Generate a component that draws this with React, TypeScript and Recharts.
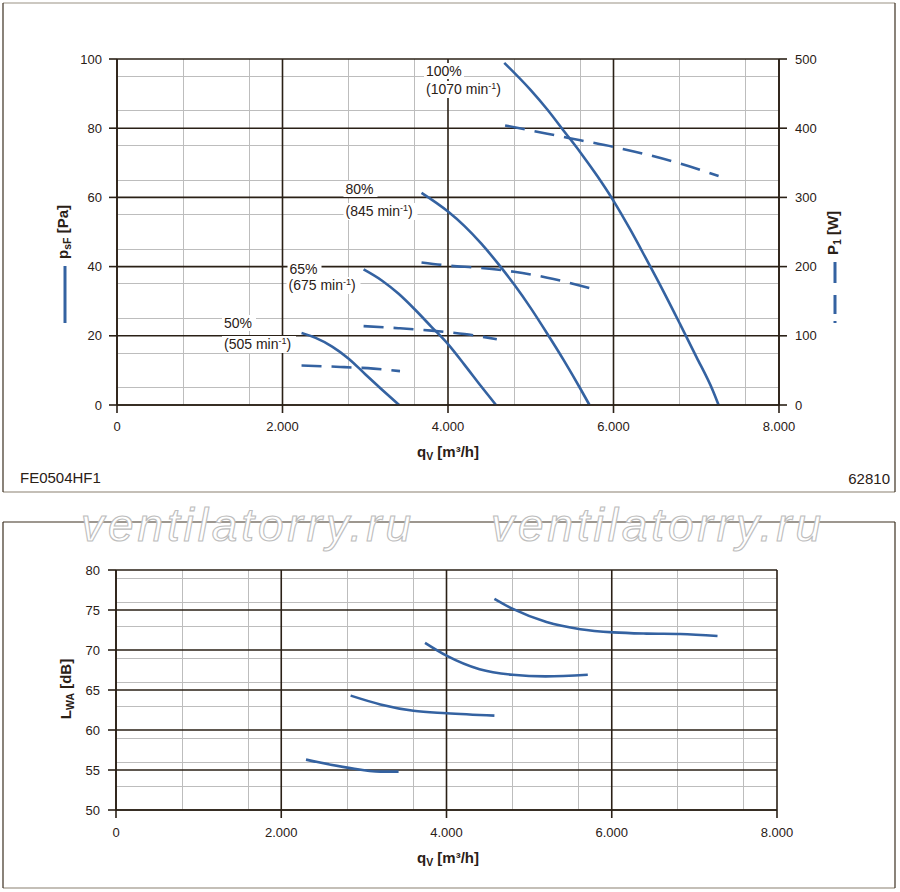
import React from 'react';
import { LineChart, Line, XAxis, YAxis, CartesianGrid } from 'recharts';

const BLUE = '#3462a1';
const INK = '#2a2016';
const MINOR = '#bdbdbd';
const FONT = '"Liberation Sans", Arial, Helvetica, sans-serif';

// q_V axis [m³/h]
const flowTicks = [0, 2000, 4000, 6000, 8000];
const flowMinor = [400, 800, 1200, 1600, 2400, 2800, 3200, 3600, 4400, 4800, 5200, 5600, 6400, 6800, 7200, 7600];

// top diagram: static pressure psF [Pa] on the left, power input P1 [W] on the right
const pressureTicks = [0, 20, 40, 60, 80, 100];
const pressureMinor = [5, 10, 15, 25, 30, 35, 45, 50, 55, 65, 70, 75, 85, 90, 95];
const powerTicks = [0, 100, 200, 300, 400, 500];

// bottom diagram: sound power LWA [dB]
const noiseTicks = [50, 55, 60, 65, 70, 75, 80];
const noiseMinor = [51, 52, 53, 54, 56, 57, 58, 59, 61, 62, 63, 64, 66, 67, 68, 69, 71, 72, 73, 74, 76, 77, 78, 79];

// speed steps
const speedPct = ['50%', '65%', '80%', '100%'];
const speedRpm = ['505', '675', '845', '1070'];

// [q, psF]
const pressure50 = [[2230, 20.8], [2400, 19.4], [2600, 16.9], [2800, 13.4], [3000, 8.9], [3200, 4.5], [3410, 0]];
const pressure65 = [[2980, 39.2], [3200, 36], [3400, 32.2], [3600, 27.6], [3800, 22.6], [4000, 17.6], [4200, 11.6], [4400, 5.4], [4580, 0]];
const pressure80 = [[3680, 61.3], [4000, 55.9], [4200, 51.7], [4400, 46.7], [4600, 41], [4800, 34.8], [5000, 28], [5200, 20.6], [5400, 12.9], [5600, 4.7], [5710, 0]];
const pressure100 = [[4680, 98.9], [5000, 91], [5200, 85.4], [5400, 79.2], [5600, 73], [5800, 66.3], [6000, 59], [6200, 50.8], [6400, 42], [6600, 33], [6800, 23.6], [7000, 14], [7200, 4.2], [7270, 0]];

// [q, P1]
const power50 = [[2230, 57], [2700, 55], [3100, 52.5], [3420, 49]];
const power65 = [[2980, 114], [3400, 111], [3800, 107.5], [4200, 102.5], [4590, 95]];
const power80 = [[3680, 206], [4000, 201.5], [4400, 198], [4800, 192.5], [5200, 184], [5710, 169]];
const power100 = [[4690, 404], [5200, 392], [5600, 382.5], [6000, 373], [6400, 362], [6800, 349], [7270, 331]];

// [q, LWA]
const noise50 = [[2300, 56.3], [2800, 55.3], [3200, 54.8], [3420, 54.8]];
const noise65 = [[2840, 64.3], [3200, 63.2], [3600, 62.4], [4000, 62.1], [4580, 61.8]];
const noise80 = [[3740, 70.9], [4000, 69.3], [4400, 67.6], [4800, 66.9], [5200, 66.7], [5710, 66.9]];
const noise100 = [[4580, 76.4], [4810, 75.1], [5210, 73.5], [5620, 72.6], [6020, 72.2], [6420, 72.05], [6830, 72.0], [7280, 71.75]];

const pts = (rows: number[][]) => rows.map(([q, v]) => ({ q, v }));

const pressureCurves = [pressure50, pressure65, pressure80, pressure100].map(pts);
const powerCurves = [power50, power65, power80, power100].map(pts);
const noiseCurves = [noise50, noise65, noise80, noise100].map(pts);

const fmtFlow = (v: number) => (v === 0 ? '0' : `${v / 1000}.000`);

const axisStyle = { stroke: INK, strokeWidth: 1.6 };
const tickStyle = { fill: INK, fontSize: 13, fontFamily: FONT };

// where the speed labels sit (px), [pct line x, baseline, rpm line x, baseline, pct width, rpm width]
const labelPos = [
  [224, 328, 224, 349, 30, 70],
  [289.5, 273.5, 288.5, 290, 30, 70],
  [345.5, 194, 345.5, 216, 30, 70],
  [426, 76, 426, 94, 36, 79],
];

const SpeedLabel = ({ i }: { i: number }) => {
  const [x1, y1, x2, y2, w1, w2] = labelPos[i];
  return (
    <g>
      <rect x={x1 - 2} y={y1 - 13} width={w1 + 4} height={16} fill="#fff" />
      <rect x={x2 - 2} y={y2 - 13} width={w2 + 4} height={17} fill="#fff" />
      <text x={x1} y={y1} fontSize={14} fill={INK}>{speedPct[i]}</text>
      <text x={x2} y={y2} fontSize={14} fill={INK}>
        ({speedRpm[i]} min<tspan fontSize={9} dy={-5}>-1</tspan><tspan dy={5}>)</tspan>
      </text>
    </g>
  );
};

const Watermark = ({ x }: { x: number }) => (
  <text x={x} y={541} fontSize={46} fontStyle="italic" fill="#fff" stroke="#bdbdbd" strokeWidth={1.1}
    textLength={330} lengthAdjust="spacing">ventilatorry.ru</text>
);

export default function App() {
  return (
    <div style={{ position: 'absolute', left: 0, top: 0, width: 900, height: 892, background: '#fff', fontFamily: FONT }}>
      <div style={{ position: 'absolute', left: 0, top: 0 }}>
        <LineChart width={900} height={500} margin={{ top: 59, right: 71, bottom: 55, left: 67 }}>
          <CartesianGrid horizontalValues={pressureMinor} verticalValues={flowMinor} stroke={MINOR} strokeWidth={1}
            shapeRendering="crispEdges" />
          <CartesianGrid horizontalValues={pressureTicks} verticalValues={flowTicks} stroke={INK} strokeWidth={1.6} />
          <XAxis type="number" dataKey="q" domain={[0, 8000]} ticks={flowTicks} tickFormatter={fmtFlow}
            allowDataOverflow height={40} tickSize={8} tickMargin={9} axisLine={axisStyle} tickLine={axisStyle} tick={tickStyle} />
          <YAxis type="number" domain={[0, 100]} ticks={pressureTicks} width={50} tickSize={8} tickMargin={7}
            axisLine={axisStyle} tickLine={axisStyle} tick={tickStyle} />
          <YAxis yAxisId="w" orientation="right" type="number" domain={[0, 500]} ticks={powerTicks} width={50}
            tickSize={8} tickMargin={8} axisLine={axisStyle} tickLine={axisStyle} tick={{ ...tickStyle, textAnchor: 'start' }} />
          {pressureCurves.map((d, i) => (
            <Line key={`p${i}`} data={d} dataKey="v" type="monotone" stroke={BLUE} strokeWidth={2.6}
              dot={false} activeDot={false} isAnimationActive={false} />
          ))}
          {powerCurves.map((d, i) => (
            <Line key={`w${i}`} yAxisId="w" data={d} dataKey="v" type="monotone" stroke={BLUE} strokeWidth={2.6}
              strokeDasharray="20 10" dot={false} activeDot={false} isAnimationActive={false} />
          ))}
        </LineChart>
      </div>
      <div style={{ position: 'absolute', left: 0, top: 500 }}>
        <LineChart width={900} height={392} margin={{ top: 70, right: 123, bottom: 42, left: 66 }}>
          <CartesianGrid horizontalValues={noiseMinor} verticalValues={flowMinor} stroke={MINOR} strokeWidth={1}
            shapeRendering="crispEdges" />
          <CartesianGrid horizontalValues={noiseTicks} verticalValues={flowTicks} stroke={INK} strokeWidth={1.6} />
          <XAxis type="number" dataKey="q" domain={[0, 8000]} ticks={flowTicks} tickFormatter={fmtFlow}
            allowDataOverflow height={40} tickSize={8} tickMargin={10} axisLine={axisStyle} tickLine={axisStyle} tick={tickStyle} />
          <YAxis type="number" domain={[50, 80]} ticks={noiseTicks} width={50} tickSize={8} tickMargin={8}
            axisLine={axisStyle} tickLine={axisStyle} tick={tickStyle} />
          {noiseCurves.map((d, i) => (
            <Line key={`n${i}`} data={d} dataKey="v" type="monotone" stroke={BLUE} strokeWidth={2.6}
              dot={false} activeDot={false} isAnimationActive={false} />
          ))}
        </LineChart>
      </div>
      <svg width={900} height={892} style={{ position: 'absolute', left: 0, top: 0, pointerEvents: 'none' }} fontFamily={FONT}>
        {/* frames */}
        <line x1={3} y1={3} x2={895} y2={3} stroke="#9a9184" strokeWidth={1.2} />
        <line x1={3} y1={492} x2={895} y2={492} stroke="#8a8070" strokeWidth={1.2} />
        <line x1={3} y1={3} x2={3} y2={492} stroke="#3c3020" strokeWidth={1.2} />
        <line x1={895} y1={3} x2={895} y2={492} stroke="#3c3020" strokeWidth={1.2} />
        <line x1={3} y1={522} x2={895} y2={522} stroke="#3c3020" strokeWidth={1.2} />
        <line x1={3} y1={888} x2={895} y2={888} stroke="#8a8070" strokeWidth={1.2} />
        <line x1={3} y1={522} x2={3} y2={888} stroke="#3c3020" strokeWidth={1.2} />
        <line x1={895} y1={522} x2={895} y2={888} stroke="#3c3020" strokeWidth={1.2} />

        {speedPct.map((_, i) => <SpeedLabel key={i} i={i} />)}

        {/* axis titles, top */}
        <text x={448} y={457} textAnchor="middle" fontSize={15} fontWeight="bold" fill={INK}>
          q<tspan fontSize={10.5} dy={3}>V</tspan><tspan dy={-3}> [m³/h]</tspan>
        </text>
        <text transform="translate(68,232) rotate(-90)" textAnchor="middle" fontSize={15} fontWeight="bold" fill={INK}>
          p<tspan fontSize={10.5} dy={3}>sF</tspan><tspan dy={-3}> [Pa]</tspan>
        </text>
        <line x1={65} y1={266} x2={65} y2={323} stroke={BLUE} strokeWidth={3} />
        <text transform="translate(838,233) rotate(-90)" textAnchor="middle" fontSize={15} fontWeight="bold" fill={INK}>
          P<tspan fontSize={10.5} dy={3}>1</tspan><tspan dy={-3}> [W]</tspan>
        </text>
        <line x1={835} y1={262} x2={835} y2={324} stroke={BLUE} strokeWidth={3} strokeDasharray="21 12 19 7 2 10" />

        <text x={20} y={483} fontSize={15} fill={INK}>FE0504HF1</text>
        <text x={890} y={484} fontSize={15} fill={INK} textAnchor="end">62810</text>

        {/* axis titles, bottom */}
        <text x={448} y={863} textAnchor="middle" fontSize={15} fontWeight="bold" fill={INK}>
          q<tspan fontSize={10.5} dy={3}>V</tspan><tspan dy={-3}> [m³/h]</tspan>
        </text>
        <text transform="translate(71,689) rotate(-90)" textAnchor="middle" fontSize={15} fontWeight="bold" fill={INK}>
          L<tspan fontSize={10.5} dy={3}>WA</tspan><tspan dy={-3}> [dB]</tspan>
        </text>

        <Watermark x={81} />
        <Watermark x={491} />
      </svg>
    </div>
  );
}
